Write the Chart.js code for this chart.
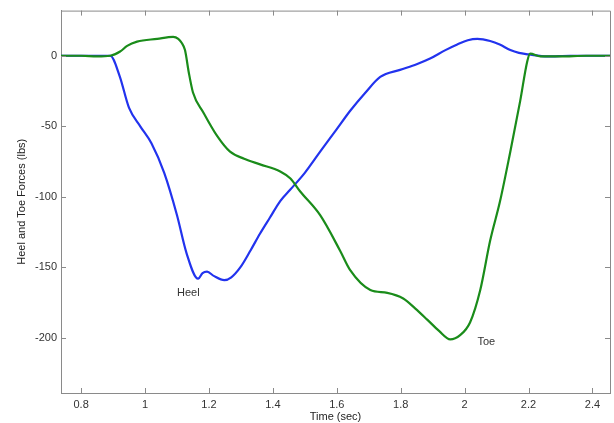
<!DOCTYPE html>
<html>
<head>
<meta charset="utf-8">
<script src="https://cdn.jsdelivr.net/npm/chart.js@4.4.1/dist/chart.umd.min.js"></script>
<style>
  html, body { margin: 0; padding: 0; background: #fff; }
  #wrap { width: 614px; height: 423px; }
</style>
</head>
<body>
<div id="wrap"><canvas id="graph" width="614" height="423"></canvas></div>
<script>
// heel force (blue)
const heelTime = [0.737, 0.80, 0.85, 0.891, 0.92, 0.95, 0.985, 1.02, 1.06, 1.10, 1.13, 1.166, 1.18, 1.194, 1.215, 1.248, 1.27, 1.298, 1.33, 1.36, 1.39, 1.423, 1.454, 1.50, 1.548, 1.60, 1.642, 1.69, 1.736, 1.798, 1.85, 1.892, 1.94, 1.977, 2.01, 2.04, 2.08, 2.11, 2.143, 2.17, 2.20, 2.259, 2.33, 2.40, 2.455];
const heelForce = [0, 0, 0, 0, -14, -37, -50, -62, -83, -113, -140, -158, -154, -153, -156, -159, -157, -150, -138, -126, -115, -103, -95, -83, -68, -52, -39, -26, -15, -10, -6, -2, 4, 8, 11, 12, 10.5, 8, 4, 2, 1, -0.5, 0, 0, 0];
// toe force (green)
const toeTime = [0.737, 0.80, 0.85, 0.891, 0.922, 0.944, 0.975, 1.038, 1.088, 1.104, 1.115, 1.125, 1.137, 1.15, 1.182, 1.226, 1.266, 1.31, 1.36, 1.423, 1.455, 1.485, 1.548, 1.61, 1.642, 1.705, 1.758, 1.808, 1.845, 1.883, 1.92, 1.955, 1.986, 2.017, 2.049, 2.08, 2.111, 2.143, 2.174, 2.196, 2.205, 2.237, 2.30, 2.38, 2.455];
const toeForce = [0, 0, -0.5, 0, 3, 7, 10, 12, 13.4, 12, 9, 4, -12, -26, -40, -57, -68, -73, -77, -82, -87, -96, -113, -138, -152, -166, -168, -172, -179, -187, -195, -201, -198, -189, -166, -131, -103, -68, -32, -4, 1.5, -0.5, -0.5, 0, 0];

const xTicks = [0.8, 1, 1.2, 1.4, 1.6, 1.8, 2, 2.2, 2.4];
const yTicks = [0, -50, -100, -150, -200];
const notes = [
    {text: 'Heel', x: 1.10, y: -168},
    {text: 'Toe', x: 2.04, y: -203}
];

const pairs = (xs, ys) => xs.map((x, i) => ({x: x, y: ys[i]}));

// inward tick marks on all four sides, plus the top and right frame
const frame = {
    id: 'frame',
    afterDatasetsDraw(chart) {
        const {ctx, chartArea: a, scales} = chart;
        ctx.save();
        ctx.strokeStyle = '#8a8a8a';
        ctx.lineWidth = 1;
        ctx.beginPath();
        ctx.moveTo(a.left, a.top + 0.5);
        ctx.lineTo(a.right + 0.5, a.top + 0.5);
        ctx.lineTo(a.right + 0.5, a.bottom);
        xTicks.forEach(v => {
            const px = Math.round(scales.x.getPixelForValue(v)) + 0.5;
            ctx.moveTo(px, a.bottom); ctx.lineTo(px, a.bottom - 5);
            ctx.moveTo(px, a.top); ctx.lineTo(px, a.top + 5);
        });
        yTicks.forEach(v => {
            const py = Math.round(scales.y.getPixelForValue(v)) + 0.5;
            ctx.moveTo(a.left, py); ctx.lineTo(a.left + 5, py);
            ctx.moveTo(a.right, py); ctx.lineTo(a.right - 5, py);
        });
        ctx.stroke();
        ctx.fillStyle = '#333';
        ctx.font = '11px Arial, "Liberation Sans", sans-serif';
        ctx.textAlign = 'left';
        ctx.textBaseline = 'middle';
        notes.forEach(n => {
            ctx.fillText(n.text, scales.x.getPixelForValue(n.x), scales.y.getPixelForValue(n.y));
        });
        ctx.restore();
    }
};

const font = {family: 'Arial, "Liberation Sans", sans-serif', size: 11};

const chart = new Chart(document.getElementById('graph'), {
    type: 'line',
    data: {
        datasets: [
            {
                label: 'Heel',
                data: pairs(heelTime, heelForce),
                borderColor: '#2233ee',
                borderWidth: 2.2,
                pointRadius: 0,
                tension: 0.4,
                cubicInterpolationMode: 'monotone',
                order: 2
            },
            {
                label: 'Toe',
                data: pairs(toeTime, toeForce),
                borderColor: '#1a8c1a',
                borderWidth: 2.2,
                pointRadius: 0,
                tension: 0.4,
                cubicInterpolationMode: 'monotone',
                order: 1
            }
        ]
    },
    options: {
        responsive: false,
        animation: false,
        layout: {padding: {top: 8, right: 4, left: 0, bottom: 0}},
        plugins: {legend: {display: false}, tooltip: {enabled: false}},
        scales: {
            x: {
                type: 'linear',
                min: 0.737,
                max: 2.455,
                afterFit: s => { s.height = 30; },
                afterBuildTicks: s => { s.ticks = xTicks.map(v => ({value: v})); },
                grid: {display: false, drawTicks: false},
                border: {display: true, color: '#8a8a8a', width: 1},
                ticks: {color: '#333', font: font, padding: 5, maxRotation: 0, callback: v => String(v)},
                title: {display: true, text: 'Time (sec)', color: '#222', font: font, padding: {top: 4, bottom: -1}}
            },
            y: {
                type: 'linear',
                min: -239,
                max: 32,
                afterFit: s => { s.width = 61; },
                afterBuildTicks: s => { s.ticks = yTicks.map(v => ({value: v})); },
                grid: {display: false, drawTicks: false},
                border: {display: true, color: '#8a8a8a', width: 1},
                ticks: {color: '#333', font: font, padding: 4},
                title: {display: true, text: 'Heel and Toe Forces (lbs)', color: '#222', font: font, padding: {top: 15, bottom: 0}}
            }
        }
    },
    plugins: [frame]
});
</script>
</body>
</html>
